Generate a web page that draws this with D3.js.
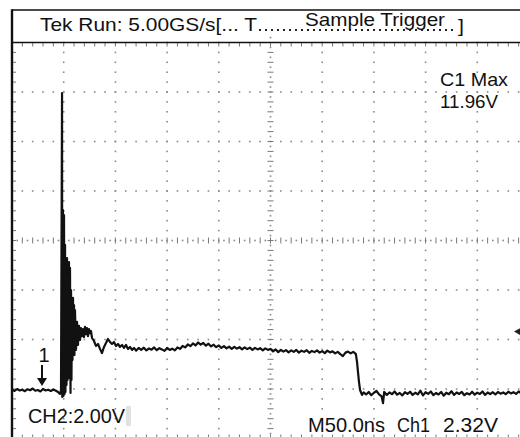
<!DOCTYPE html>
<html>
<head>
<meta charset="utf-8">
<script src="https://cdn.jsdelivr.net/npm/d3@7.9.0/dist/d3.min.js"></script>
<style>
  html, body { margin: 0; padding: 0; background: #fff; }
  svg { display: block; font-family: "Liberation Sans", Arial, sans-serif; }
</style>
</head>
<body>
<svg id="scope" width="520" height="437"></svg>
<script>
// scope settings
const timePerDiv = 50;   // ns / div (M50.0ns)
const voltPerDiv = 2;    // V / div
const triggerVolt = 2.32;
const peakVolt = 11.96;

// channel 1 trace (ns, V)
const traceTime = [
  0, 2.5, 5, 7.5, 10, 12.5, 15, 17.5, 20, 22.5, 25, 27.5, 30, 32.5, 35, 37.5, 40, 42.5, 44.5, 46.4, 47.4,
  48.4, 48.6, 49.3, 49.8, 50.3, 50.8, 51.3, 51.7, 52.2, 52.7, 53.2, 53.7, 54.2, 54.6, 55.1, 55.6, 56.1, 56.6,
  57.1, 57.5, 58.0, 58.5, 59.0, 59.5, 60.0, 60.4, 60.9, 61.9, 62.9, 63.8, 64.8, 65.8, 66.7, 67.7, 68.7, 69.6,
  70.6, 71.6, 72.5, 73.5, 74.5, 75.4, 76.4, 77.4, 79.3, 81.2, 83.2, 85.1, 87.0, 89.0, 90.9, 92.8, 94.8, 96.7,
  98.6, 100.6, 102.5, 104.4, 106.4, 108.3, 110.3, 112.2, 114.1, 116.1, 118.0,
  120, 122.5, 125, 127.5, 130, 132.5, 135, 137.5, 140, 142.5, 145, 147.5, 150, 152.5, 155, 157.5, 160, 162.5,
  165, 167.5, 170, 172.5, 175, 177.5, 180, 182.5, 185, 187.5, 190, 192.5, 195, 197.5, 200, 202.5, 205, 207.5,
  210, 212.5, 215, 217.5, 220, 222.5, 225, 227.5, 230, 232.5, 235, 237.5, 240, 242.5, 245, 247.5, 250, 252.5,
  255, 257.5, 260, 262.5, 265, 267.5, 270, 272.5, 275, 277.5, 280, 282.5, 285, 287.5, 290, 292.5, 295, 297.5,
  300, 302.5, 305, 307.5, 310, 312.5, 315, 317.5, 320, 322.5, 325, 327.5, 330, 332.5,
  333.7, 334.6, 335.6, 336.6, 338.5,
  340, 342.5, 345, 347.5, 350, 352.5, 355, 357.5, 358.8, 360, 362.5, 365, 367.5, 370, 372.5, 375, 377.5, 380,
  382.5, 385, 387.5, 390, 392.5, 395, 397.5, 400, 402.5, 405, 407.5, 410, 412.5, 415, 417.5, 420, 422.5, 425,
  427.5, 430, 432.5, 435, 437.5, 440, 442.5, 445, 447.5, 450, 452.5, 455, 457.5, 460, 462.5, 465, 467.5, 470,
  472.5, 475, 477.5, 480, 482.5, 485, 487.5, 490, 492.5, 495, 497.5, 500
];
const traceVolt = [
  -0.02, -0.08, 0.0, -0.06, -0.03, -0.09, -0.01, -0.05, 0.02, -0.07, -0.04, -0.10, 0.0, -0.06, -0.03, -0.08, -0.02, -0.07, -0.12, -0.20, -0.05,
  11.96, -0.32, 7.23, -0.28, 7.03, -0.20, 5.82, -0.12, 5.13, 0.16, 5.29, 0.36, 5.01, 0.77, 5.13, 0.44, 4.89, -0.16,
  4.00, 0.36, 3.60, 1.17, 3.68, 1.49, 3.39, 1.37, 3.19, 1.58, 2.71, 1.78, 2.55, 1.98, 2.46, 2.14, 2.42, 2.10,
  2.51, 2.22, 2.46, 2.14, 2.42, 2.26, 2.34, 2.06, 1.94, 1.74, 1.82, 1.62, 1.45, 1.70, 1.86, 2.02, 1.90, 1.82,
  1.90, 1.74, 1.82, 1.70, 1.78, 1.66, 1.78, 1.62, 1.70, 1.58, 1.66,
  1.55, 1.66, 1.58, 1.67, 1.56, 1.64, 1.59, 1.68, 1.57, 1.65, 1.60, 1.54, 1.66, 1.58, 1.63, 1.56, 1.68, 1.62,
  1.74, 1.68, 1.80, 1.73, 1.84, 1.76, 1.88, 1.79, 1.86, 1.75, 1.83, 1.72, 1.79, 1.69, 1.76, 1.66, 1.73, 1.64,
  1.71, 1.62, 1.70, 1.63, 1.69, 1.60, 1.68, 1.61, 1.67, 1.58, 1.66, 1.60, 1.65, 1.56, 1.64, 1.58, 1.62, 1.52,
  1.60, 1.49, 1.58, 1.51, 1.57, 1.48, 1.56, 1.50, 1.58, 1.47, 1.55, 1.50, 1.57, 1.46, 1.54, 1.49, 1.56, 1.47,
  1.53, 1.45, 1.55, 1.48, 1.52, 1.44, 1.50, 1.41, 1.33, 1.47, 1.51, 1.44, 1.50, 1.42,
  1.09, 0.69, 0.28, -0.04, -0.24,
  -0.14, -0.22, -0.12, -0.25, -0.15, -0.08, -0.22, -0.30, -0.57, -0.12, -0.24, -0.14, -0.21, -0.10, -0.23, -0.16, -0.26, -0.13,
  -0.20, -0.11, -0.24, -0.15, -0.22, -0.07, -0.26, -0.13, -0.20, -0.10, -0.25, -0.16, -0.22, -0.12, -0.27, -0.15, -0.21, -0.09,
  -0.24, -0.14, -0.20, -0.12, -0.25, -0.17, -0.22, -0.11, -0.23, -0.15, -0.20, -0.10, -0.24, -0.14, -0.21, -0.13, -0.22, -0.12,
  -0.19, -0.14, -0.21, -0.11, -0.18, -0.13, -0.20, -0.10, -0.17, -0.08, -0.15, -0.06
];

const svg = d3.select('#scope');

// 10 x 8 divisions graticule
const x = d3.scaleLinear().domain([0, 10 * timePerDiv]).range([12, 529]);
const y = d3.scaleLinear().domain([-1 * voltPerDiv, 7 * voltPerDiv]).range([438.5, 42.5]);

const xMajor = d3.range(0, 11).map(i => i * timePerDiv);
const yMajor = d3.range(0, 9).map(i => -voltPerDiv + i * voltPerDiv);
const xMinor = d3.range(0, 51).map(i => i * timePerDiv / 5);
const yMinor = d3.range(0, 41).map(i => -voltPerDiv + i * voltPerDiv / 5);
const xCenter = 5 * timePerDiv;
const yCenter = 3 * voltPerDiv;

const grid = svg.append('g').attr('fill', '#8a8a8a');

// dotted grid lines
xMajor.slice(1, 10).filter(t => t !== xCenter).forEach(t => {
  yMinor.forEach(v => {
    grid.append('rect').attr('x', x(t) - 0.8).attr('y', y(v) - 0.8).attr('width', 1.6).attr('height', 1.6);
  });
});
yMajor.slice(1, 8).filter(v => v !== yCenter).forEach(v => {
  xMinor.forEach(t => {
    grid.append('rect').attr('x', x(t) - 0.8).attr('y', y(v) - 0.8).attr('width', 1.6).attr('height', 1.6);
  });
});

// centre cross with fine ticks
const ticks = svg.append('g').attr('stroke', '#777').attr('stroke-width', 1);
yMinor.forEach(v => {
  ticks.append('line').attr('x1', x(xCenter) - 3).attr('x2', x(xCenter) + 3).attr('y1', y(v)).attr('y2', y(v));
  grid.append('rect').attr('x', x(xCenter) - 0.8).attr('y', y(v + voltPerDiv / 10) - 0.8).attr('width', 1.6).attr('height', 1.6);
});
xMinor.forEach(t => {
  ticks.append('line').attr('x1', x(t)).attr('x2', x(t)).attr('y1', y(yCenter) - 3).attr('y2', y(yCenter) + 3);
  grid.append('rect').attr('x', x(t + timePerDiv / 10) - 0.8).attr('y', y(yCenter) - 0.8).attr('width', 1.6).attr('height', 1.6);
});

// edge ticks
xMinor.forEach(t => {
  ticks.append('line').attr('x1', x(t)).attr('x2', x(t)).attr('y1', y(yMajor[8])).attr('y2', y(yMajor[8]) + 4);
  ticks.append('line').attr('x1', x(t)).attr('x2', x(t)).attr('y1', y(yMajor[0])).attr('y2', y(yMajor[0]) - 4);
});
yMinor.forEach(v => {
  ticks.append('line').attr('x1', x(0)).attr('x2', x(0) + 4).attr('y1', y(v)).attr('y2', y(v));
});

// frame
const frame = svg.append('g').attr('stroke', '#111');
frame.append('line').attr('x1', 12).attr('x2', 520).attr('y1', 10).attr('y2', 10).attr('stroke-width', 1.5);
frame.append('line').attr('x1', 12).attr('x2', 520).attr('y1', y(yMajor[8])).attr('y2', y(yMajor[8])).attr('stroke-width', 1.5);
frame.append('line').attr('x1', x(0)).attr('x2', x(0)).attr('y1', 9.3).attr('y2', 437).attr('stroke-width', 2.4);

// trace
const points = traceTime.map((t, i) => [t, traceVolt[i]]);
const line = d3.line().x(d => x(d[0])).y(d => y(d[1]));
svg.append('path')
  .attr('d', line(points))
  .attr('fill', 'none')
  .attr('stroke', '#111')
  .attr('stroke-width', 2.2)
  .attr('stroke-linejoin', 'round');

// trigger level marker at right edge
const ty = y(triggerVolt);
svg.append('path')
  .attr('d', `M514,${ty} L521,${ty - 4} L521,${ty + 4} Z`)
  .attr('fill', '#222');

// ground marker "1"
const gy = y(0);
svg.append('text').attr('x', 44).attr('y', gy - 27).attr('text-anchor', 'middle')
  .attr('font-size', 20).attr('fill', '#111').text('1');
svg.append('line').attr('x1', 42).attr('x2', 42).attr('y1', gy - 24).attr('y2', gy - 10)
  .attr('stroke', '#111').attr('stroke-width', 2);
svg.append('path').attr('d', `M37,${gy - 11} L47,${gy - 11} L42,${gy - 3} Z`).attr('fill', '#111');

// header dots (drawn as marks, under "Sample Trigger")
d3.range(0, 33).forEach(i => {
  svg.append('rect').attr('x', 259 + i * 6).attr('y', 29).attr('width', 2).attr('height', 2).attr('fill', '#222');
});

// readouts
function label(txt, x0, yb, w, size) {
  svg.append('text')
    .attr('x', x0).attr('y', yb)
    .attr('font-size', size)
    .attr('fill', '#111')
    .attr('textLength', w)
    .attr('lengthAdjust', 'spacingAndGlyphs')
    .text(txt);
}
label('Tek Run: 5.00GS/s[... T', 40, 31, 217, 19);
label(']', 458, 32, 6, 19);
label('Sample Trigger', 305, 26, 140, 19);
label('C1 Max', 440, 86, 68, 19);
label(peakVolt.toFixed(2) + 'V', 440, 108, 58, 19);

svg.append('rect').attr('x', 126).attr('y', 406).attr('width', 5).attr('height', 20).attr('fill', '#e2e2e2');
label('CH2:' + voltPerDiv.toFixed(2) + 'V', 28, 423, 97, 21);
label('M' + timePerDiv.toFixed(1) + 'ns', 308, 432, 77, 21);
label('Ch1', 397, 432, 33, 21);
label(triggerVolt.toFixed(2) + 'V', 443, 432, 55, 21);
</script>
</body>
</html>
